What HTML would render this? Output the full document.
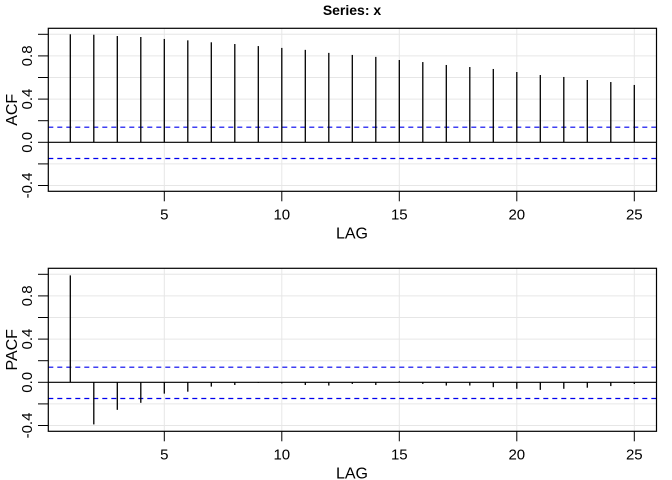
<!DOCTYPE html>
<html><head><meta charset="utf-8"><style>
html,body{margin:0;padding:0;background:#fff}
svg{display:block;font-family:"Liberation Sans",Arial,sans-serif}
</style></head><body>
<svg id="c" width="672" height="480" xmlns="http://www.w3.org/2000/svg">
<text x="352" y="15" text-anchor="middle" font-size="14" font-weight="bold">Series:  x</text>
</svg>
<script>
const lags=[1,2,3,4,5,6,7,8,9,10,11,12,13,14,15,16,17,18,19,20,21,22,23,24,25];
const acfValues=[1.0,0.996,0.984,0.975,0.957,0.944,0.926,0.91,0.891,0.874,0.856,0.828,0.809,0.791,0.762,0.743,0.716,0.697,0.679,0.651,0.623,0.605,0.577,0.558,0.531];
const pacfValues=[0.99,-0.39,-0.255,-0.19,-0.105,-0.087,-0.04,-0.025,-0.005,-0.01,-0.025,-0.03,-0.015,-0.025,0.01,-0.015,-0.03,-0.03,-0.045,-0.06,-0.07,-0.06,-0.05,-0.035,-0.015];
const ciBound=[0.14,-0.15];
const xTickLabels=[5,10,15,20,25];
const yTickLabels=["-0.4","0.0","0.4","0.8"];
const yTicks=[-0.4,-0.2,0,0.2,0.4,0.6,0.8,1.0];
const svg=document.getElementById('c');
const NS='http://www.w3.org/2000/svg';
function mk(t,a){const e=document.createElementNS(NS,t);for(const k in a)e.setAttribute(k,a[k]);svg.appendChild(e);return e;}
const L=48.3,R=656.5;
const xs=v=>70.3+(v-1)*23.5;
function panel(top,bottom,zeroY,vals,ylab,pre){
  const ys=v=>zeroY-v*108;
  yTicks.forEach(t=>{const g=mk('line',{x1:L,x2:R,y1:ys(t),y2:ys(t),stroke:'#e6e6e6','stroke-width':1});
    });
  xTickLabels.forEach(t=>{const g=mk('line',{x1:xs(t),x2:xs(t),y1:top,y2:bottom,stroke:'#e6e6e6','stroke-width':1});
    });
  ciBound.forEach(c=>{const d=mk('line',{x1:L,x2:R,y1:ys(c),y2:ys(c),stroke:'#0000ee','stroke-width':1.2,'stroke-dasharray':'5,4'});
    });
  const z=mk('line',{x1:L,x2:R,y1:ys(0),y2:ys(0),stroke:'#000','stroke-width':1.2});
  
  vals.forEach((v,i)=>{const b=mk('line',{x1:xs(lags[i]),x2:xs(lags[i]),y1:ys(0),y2:ys(v),stroke:'#000','stroke-width':1.3});
    });
  const box=mk('rect',{x:L,y:top,width:R-L,height:bottom-top,fill:'none',stroke:'#000','stroke-width':1.2});
  
  yTicks.forEach(t=>{const k=mk('line',{x1:38,x2:L,y1:ys(t),y2:ys(t),stroke:'#000','stroke-width':1});
    });
  yTickLabels.forEach(s=>{const y=ys(parseFloat(s));const tx=mk('text',{x:0,y:0,'font-size':15,'text-anchor':'middle',transform:`translate(32,${y}) rotate(-90)`});
    tx.textContent=s;});
  xTickLabels.forEach(t=>{const k=mk('line',{x1:xs(t),x2:xs(t),y1:bottom,y2:bottom+10,stroke:'#000','stroke-width':1});
    
    const tx=mk('text',{x:xs(t),y:bottom+28,'font-size':15,'text-anchor':'middle'});tx.textContent=t;
    });
  const xl=mk('text',{x:352,y:bottom+47,'font-size':16,'text-anchor':'middle'});xl.textContent='LAG';
  
  const yl=mk('text',{x:0,y:0,'font-size':16,'text-anchor':'middle',transform:`translate(17,${(top+bottom)/2}) rotate(-90)`});yl.textContent=ylab;
  
}
panel(28.3,191.3,142.3,acfValues,'ACF','acf');
panel(268.3,431.3,382.3,pacfValues,'PACF','pacf');
</script>
</body></html>
